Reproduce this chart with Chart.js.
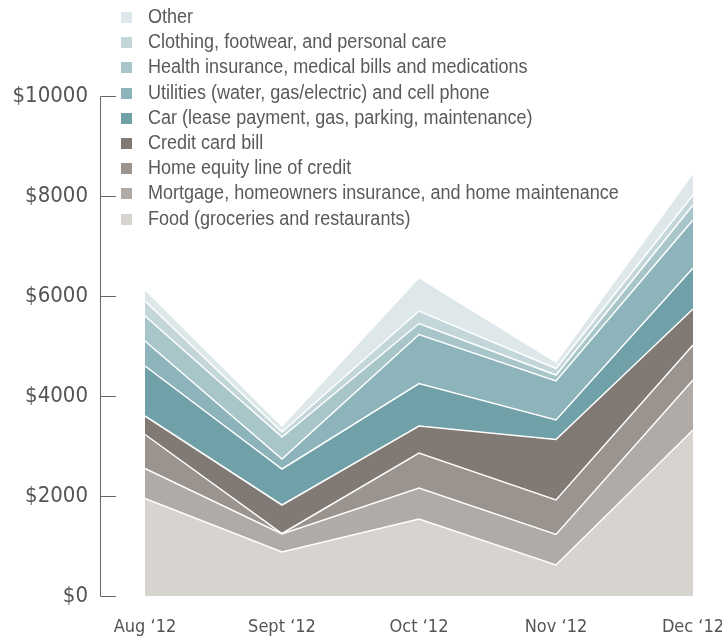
<!DOCTYPE html>
<html>
<head>
<meta charset="utf-8">
<script src="https://cdn.jsdelivr.net/npm/chart.js@4"></script>
<style>
  body { margin: 0; background: #fff; }
  #wrap { position: relative; width: 722px; height: 641px; }
  #chart { position: absolute; left: 0; top: 0; }
  #legend { position: absolute; left: 121px; top: 4px; font-family: 'Liberation Sans', Arial, sans-serif; font-size: 20px; color: #5a5a5a; }
  #legend div { height: 25.2px; line-height: 25.2px; white-space: nowrap; }
  #legend span { display: inline-block; width: 11px; height: 11px; margin-right: 16px; vertical-align: 0px; }
  #legend em { font-style: normal; display: inline-block; transform-origin: 0 50%; }
</style>
</head>
<body>
<div id="wrap">
  <canvas id="chart" width="722" height="641"></canvas>
  <div id="legend"></div>
</div>
<script>
const months = ['Aug \u201812', 'Sept \u201812', 'Oct \u201812', 'Nov \u201812', 'Dec \u201812'];
const yTicks = [0, 2000, 4000, 6000, 8000, 10000];

// series, bottom of the stack first
const food = [1950, 880, 1540, 620, 3320];
const mortgage = [600, 360, 620, 610, 1000];
const homeEquity = [680, 10, 700, 690, 700];
const creditCard = [370, 570, 540, 1210, 720];
const car = [1000, 720, 850, 390, 820];
const utilities = [500, 200, 980, 780, 960];
const health = [500, 440, 220, 120, 300];
const clothing = [300, 100, 250, 130, 200];
const other = [230, 120, 670, 130, 440];

const seriesNames = [
    'Food (groceries and restaurants)',
    'Mortgage, homeowners insurance, and home maintenance',
    'Home equity line of credit',
    'Credit card bill',
    'Car (lease payment, gas, parking, maintenance)',
    'Utilities (water, gas/electric) and cell phone',
    'Health insurance, medical bills and medications',
    'Clothing, footwear, and personal care',
    'Other'
];
const seriesData = [food, mortgage, homeEquity, creditCard, car, utilities, health, clothing, other];
const seriesColors = ['#d7d3cf', '#b0aba6', '#9a938e', '#817973', '#70a1a8', '#8db4ba', '#a8c5c9', '#c3d7da', '#dee8ea'];

const FONT = "'DejaVu Sans Condensed', sans-serif";

const datasets = seriesData.map(function(d, i) {
    return {
        label: seriesNames[i],
        data: d,
        backgroundColor: seriesColors[i],
        borderColor: '#ffffff',
        borderWidth: 1.5,
        pointRadius: 0,
        tension: 0,
        fill: i === 0 ? 'origin' : '-1'
    };
});

// axis line with ticks pointing inwards, like the original
const axisPlugin = {
    id: 'axisLine',
    afterDraw: function(chart) {
        const y = chart.scales.y;
        const ctx = chart.ctx;
        const x0 = 100.5;
        ctx.save();
        ctx.strokeStyle = '#666';
        ctx.lineWidth = 1;
        ctx.beginPath();
        ctx.moveTo(x0, Math.round(y.getPixelForValue(0)) + 0.5);
        ctx.lineTo(x0, Math.round(y.getPixelForValue(10000)) + 0.5);
        yTicks.forEach(function(v) {
            const py = Math.round(y.getPixelForValue(v)) + 0.5;
            ctx.moveTo(x0, py);
            ctx.lineTo(116, py);
        });
        ctx.stroke();
        ctx.restore();
    }
};

new Chart(document.getElementById('chart'), {
    type: 'line',
    data: { labels: months, datasets: datasets },
    options: {
        responsive: false,
        animation: false,
        devicePixelRatio: 1,
        layout: { padding: { top: 96, right: 0, bottom: 0, left: 0 } },
        plugins: { legend: { display: false }, tooltip: { enabled: false } },
        scales: {
            x: {
                offset: false,
                grid: { display: false, drawTicks: false },
                border: { display: false },
                afterFit: function(scale) {
                    scale.height = 45;
                    scale.paddingLeft = 0;
                    scale.paddingRight = 29;
                },
                ticks: { color: '#555', padding: 21, maxRotation: 0, font: { family: FONT, size: 18 } }
            },
            y: {
                stacked: true,
                min: 0,
                max: 10000,
                grid: { display: false, drawTicks: false },
                border: { display: false },
                afterFit: function(scale) {
                    scale.width = 145;
                    scale.paddingTop = 0;
                    scale.paddingBottom = 0;
                },
                ticks: {
                    stepSize: 2000,
                    padding: 57,
                    color: '#555',
                    font: { family: FONT, size: 22 },
                    callback: function(v) { return '$' + v; }
                }
            }
        }
    },
    plugins: [axisPlugin]
});

// legend, top item first; text squeezed to the condensed look of the original
const legend = document.getElementById('legend');
for (let i = seriesNames.length - 1; i >= 0; i--) {
    const row = document.createElement('div');
    row.innerHTML = '<span style="background:' + seriesColors[i] + '"></span><em>' + seriesNames[i] + '</em>';
    legend.appendChild(row);
}
const longest = legend.querySelectorAll('em')[7];
const squeeze = 471 / longest.getBoundingClientRect().width;
legend.querySelectorAll('em').forEach(function(el) {
    el.style.transform = 'scaleX(' + squeeze.toFixed(3) + ')';
});
</script>
</body>
</html>
